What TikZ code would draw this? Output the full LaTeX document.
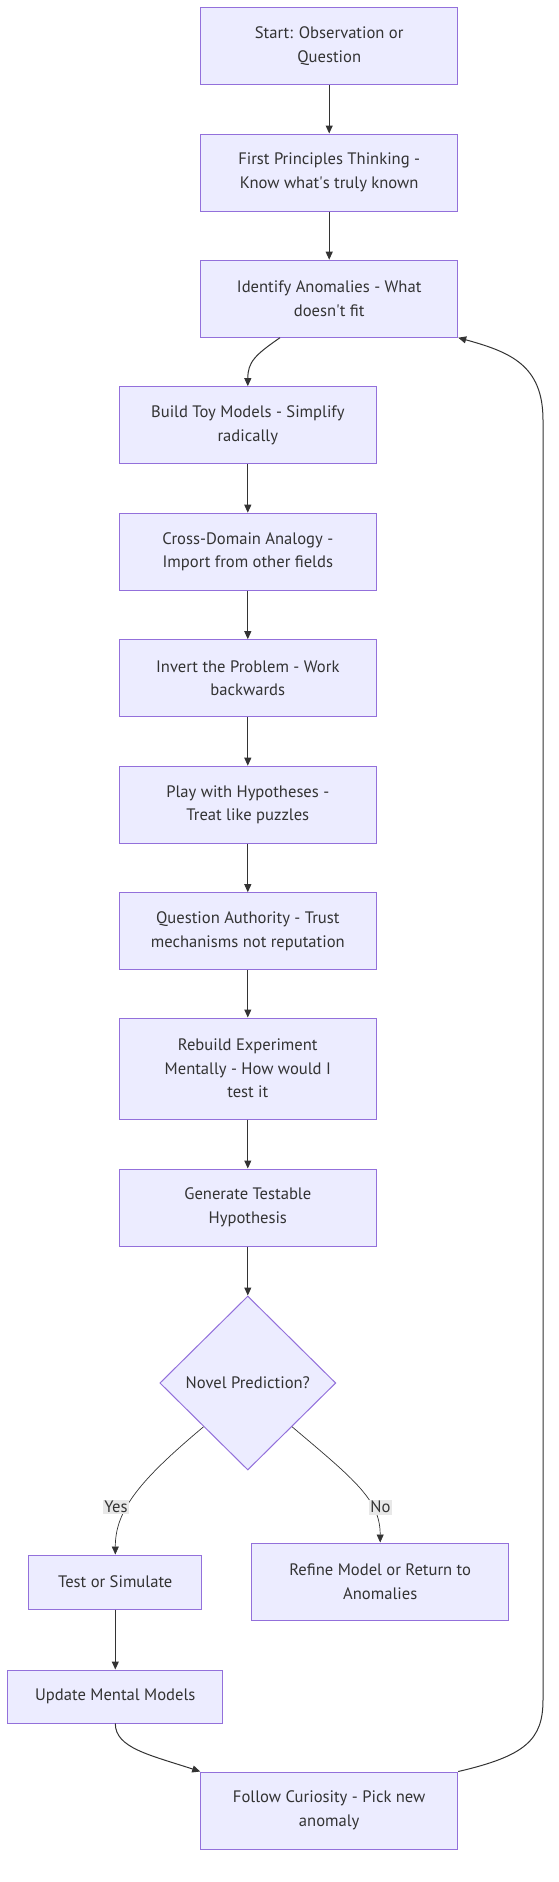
\documentclass[tikz,border=0pt]{standalone}
\usepackage{fontspec}
\setmainfont{PT Sans}
\usetikzlibrary{arrows.meta,shapes.geometric}
\definecolor{nodefill}{HTML}{ECECFF}
\definecolor{nodeborder}{HTML}{9370DB}
\definecolor{edgecol}{HTML}{333333}
\definecolor{labelbg}{HTML}{E8E8E8}
\begin{document}
\begin{tikzpicture}[x=1pt,y=1pt,
  box/.style={draw=nodeborder, fill=nodefill, line width=1pt, minimum width=257pt,
    minimum height=77pt, inner sep=0pt, align=center, text=edgecol,
    font=\fontsize{16.6}{23.5}\selectfont},
  dec/.style={draw=nodeborder, fill=nodefill, line width=1pt, shape=diamond,
    minimum width=176pt, minimum height=174pt, inner sep=0pt, text=edgecol,
    font=\fontsize{16.6}{23.5}\selectfont},
  elabel/.style={fill=labelbg, inner sep=1.5pt, text=edgecol,
    font=\fontsize{16.6}{20}\selectfont},
  arr/.style={draw=edgecol, line width=1pt, -{Triangle[length=8pt,width=7pt]}},
  thinarr/.style={draw=edgecol, line width=0.7pt, -{Triangle[length=8pt,width=7pt]}},
  plain/.style={draw=edgecol, line width=1pt}
]
\useasboundingbox (0,0) rectangle (559,-1882);

\node[box] (start) at (329.2,-46) {Start: Observation or\\Question};
\node[box] (first) at (329.2,-172.5) {First Principles Thinking -\\Know what\textquotesingle s truly known};
\node[box] (ident) at (329.2,-298.7) {Identify Anomalies - What\\doesn\textquotesingle t fit};
\node[box] (toy) at (247.8,-425.2) {Build Toy Models - Simplify\\radically};
\node[box] (cross) at (247.8,-551.7) {Cross-Domain Analogy -\\Import from other fields};
\node[box] (invert) at (247.8,-678.2) {Invert the Problem - Work\\backwards};
\node[box] (play) at (247.8,-804.7) {Play with Hypotheses -\\Treat like puzzles};
\node[box] (quest) at (247.8,-931.2) {Question Authority - Trust\\mechanisms not reputation};
\node[box, minimum height=101pt] (rebuild) at (247.8,-1068.5) {Rebuild Experiment\\Mentally - How would I\\test it};
\node[box] (gen) at (247.8,-1207.5) {Generate Testable\\Hypothesis};
\node[dec] (novel) at (247.8,-1383) {Novel Prediction?};
\node[box, minimum width=173.3pt, minimum height=54pt] (test) at (115.3,-1582) {Test or Simulate};
\node[box] (refine) at (380.2,-1581.5) {Refine Model or Return to\\Anomalies};
\node[box, minimum width=215.3pt, minimum height=53pt] (update) at (115.3,-1696.5) {Update Mental Models};
\node[box] (follow) at (329.2,-1810.5) {Follow Curiosity - Pick new\\anomaly};

\draw[arr] (start) -- (first);
\draw[arr] (first) -- (ident);
\draw[arr] ([xshift=-49.2pt]ident.south) .. controls (255,-355) and (247.8,-362) .. (toy.north);
\draw[arr] (toy) -- (cross);
\draw[arr] (cross) -- (invert);
\draw[arr] (invert) -- (play);
\draw[arr] (play) -- (quest);
\draw[arr] (quest) -- (rebuild);
\draw[arr] (rebuild) -- (gen);
\draw[arr] (gen) -- (novel);

\draw[thinarr] (novel.south west) .. controls (140,-1480) and (115.3,-1510) .. (test.north);
\draw[thinarr] (novel.south east) .. controls (355,-1480) and (380.2,-1500) .. (refine.north);
\node[elabel] (yes) at (116,-1507) {Yes};
\node[elabel] (no) at (380.5,-1507) {No};

\draw[arr] (test) -- (update);
\draw[arr] (update.south) .. controls (115.3,-1748) and (150,-1755) .. (follow.north west);

\coordinate (loopb) at (543,-1700);
\coordinate (loopt) at (543,-420);
\draw[arr] (follow.north east) .. controls (525,-1756) and (543,-1740) .. (loopb)
  -- (loopt) .. controls (543,-365) and (510,-352) .. (ident.south east);
\end{tikzpicture}
\end{document}
